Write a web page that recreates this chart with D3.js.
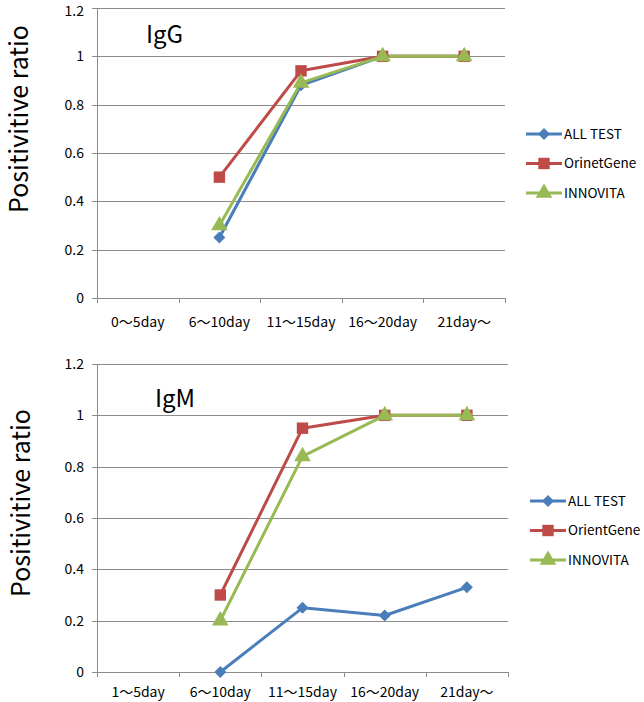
<!DOCTYPE html>
<html>
<head>
<meta charset="utf-8">
<script src="https://cdn.jsdelivr.net/npm/d3@7"></script>
<style>
  html, body { margin: 0; padding: 0; background: #fff; }
  svg { display: block; font-family: "Noto Sans CJK JP", "Noto Sans", sans-serif; }
</style>
</head>
<body>
<svg id="chart" width="644" height="702"></svg>
<script>
// ---- data ----
const categoriesIgG = ["0～5day", "6～10day", "11～15day", "16～20day", "21day～"];
const categoriesIgM = ["1～5day", "6～10day", "11～15day", "16～20day", "21day～"];
const yTicks = [0, 0.2, 0.4, 0.6, 0.8, 1, 1.2];
const seriesNamesIgG = ["ALL TEST", "OrinetGene", "INNOVITA"];
const seriesNamesIgM = ["ALL TEST", "OrientGene", "INNOVITA"];
const iggAllTest   = [null, 0.25, 0.88, 1, 1];
const iggOrient    = [null, 0.50, 0.94, 1, 1];
const iggInnovita  = [null, 0.30, 0.89, 1, 1];
const igmAllTest   = [null, 0.00, 0.25, 0.22, 0.33];
const igmOrient    = [null, 0.30, 0.95, 1, 1];
const igmInnovita  = [null, 0.20, 0.84, 1, 1];

const colors = ["#4A7EBB", "#BE4B48", "#98B954"];
const shapes = [d3.symbolSquare, d3.symbolSquare, d3.symbolTriangle];
const rotations = [45, 0, 0];
const symSizes = [72, 130, 120];

const svg = d3.select("#chart");

function drawPanel(cfg) {
  const g = svg.append("g");
  const x = d3.scaleBand().domain(cfg.categories).range([cfg.left, cfg.right]);
  const y = d3.scaleLinear().domain([0, 1.2]).range([cfg.bottom, cfg.top]);

  // gridlines
  g.selectAll(".grid").data(yTicks).enter().append("line")
    .attr("x1", cfg.left - 5).attr("x2", cfg.right)
    .attr("y1", d => Math.round(y(d)) + 0.5).attr("y2", d => Math.round(y(d)) + 0.5)
    .attr("stroke", "#8c8c8c").attr("stroke-width", 1);

  // y axis line
  g.append("line")
    .attr("x1", cfg.left + 0.5).attr("x2", cfg.left + 0.5)
    .attr("y1", cfg.top).attr("y2", cfg.bottom)
    .attr("stroke", "#8c8c8c");

  // x ticks at category boundaries
  const bounds = cfg.categories.map(c => x(c)).concat([cfg.right]);
  g.selectAll(".xt").data(bounds).enter().append("line")
    .attr("x1", d => Math.round(d) + 0.5).attr("x2", d => Math.round(d) + 0.5)
    .attr("y1", Math.round(y(0))).attr("y2", Math.round(y(0)) + 5)
    .attr("stroke", "#8c8c8c");

  // y tick labels
  g.selectAll(".yl").data(yTicks).enter().append("text")
    .attr("x", cfg.left - 13).attr("y", d => Math.max(y(d), 11))
    .attr("dy", "0.35em").attr("text-anchor", "end")
    .attr("font-size", 14).attr("fill", "#000")
    .text(d => d3.format("")(d));

  // x labels
  g.selectAll(".xl").data(cfg.categories).enter().append("text")
    .attr("x", d => x(d) + x.bandwidth() / 2).attr("y", y(0) + cfg.xLabelOffset)
    .attr("text-anchor", "middle").attr("font-size", 14).attr("fill", "#000")
    .text(d => d);

  // y title
  g.append("text")
    .attr("transform", `translate(${cfg.titleX},${cfg.titleY}) rotate(-90)`)
    .attr("text-anchor", "middle").attr("font-size", 25).attr("fill", "#000")
    .text("Positivitive ratio");

  // panel title
  g.append("text").attr("x", cfg.labelX).attr("y", cfg.labelY)
    .attr("font-size", 24).attr("fill", "#000").text(cfg.label);

  // series
  const line = d3.line()
    .defined(d => d.v !== null)
    .x(d => x(d.c) + x.bandwidth() / 2)
    .y(d => y(d.v));

  cfg.series.forEach((vals, i) => {
    const pts = vals.map((v, j) => ({ c: cfg.categories[j], v }));
    g.append("path").datum(pts)
      .attr("d", line).attr("fill", "none")
      .attr("stroke", colors[i]).attr("stroke-width", 3)
      .attr("stroke-linejoin", "round");
  });
  cfg.series.forEach((vals, i) => {
    const pts = vals.map((v, j) => ({ c: cfg.categories[j], v })).filter(d => d.v !== null);
    g.selectAll(".m" + i).data(pts).enter().append("path")
      .attr("d", d3.symbol().type(shapes[i]).size(symSizes[i]))
      .attr("transform", d => `translate(${x(d.c) + x.bandwidth() / 2},${y(d.v)}) rotate(${rotations[i]})`)
      .attr("fill", colors[i]);
  });

  // legend
  cfg.names.forEach((n, i) => {
    const ly = cfg.legendY + i * 29.5;
    g.append("line").attr("x1", cfg.legendX).attr("x2", cfg.legendX + 36)
      .attr("y1", ly).attr("y2", ly).attr("stroke", colors[i]).attr("stroke-width", 3);
    g.append("path").attr("d", d3.symbol().type(shapes[i]).size(symSizes[i]))
      .attr("transform", `translate(${cfg.legendX + 18},${ly}) rotate(${rotations[i]})`).attr("fill", colors[i]);
    g.append("text").attr("x", cfg.legendX + 38).attr("y", ly).attr("dy", "0.35em")
      .attr("font-size", 13.5).attr("fill", "#000").text(n);
  });
}

drawPanel({
  categories: categoriesIgG, names: seriesNamesIgG,
  series: [iggAllTest, iggOrient, iggInnovita],
  left: 97, right: 505, top: 8, bottom: 298, xLabelOffset: 29,
  titleX: 28, titleY: 119, label: "IgG", labelX: 146, labelY: 43,
  legendX: 526, legendY: 134
});
drawPanel({
  categories: categoriesIgM, names: seriesNamesIgM,
  series: [igmAllTest, igmOrient, igmInnovita],
  left: 97, right: 508, top: 364, bottom: 672, xLabelOffset: 25,
  titleX: 30, titleY: 503, label: "IgM", labelX: 155, labelY: 407,
  legendX: 530, legendY: 501
});
</script>
</body>
</html>
